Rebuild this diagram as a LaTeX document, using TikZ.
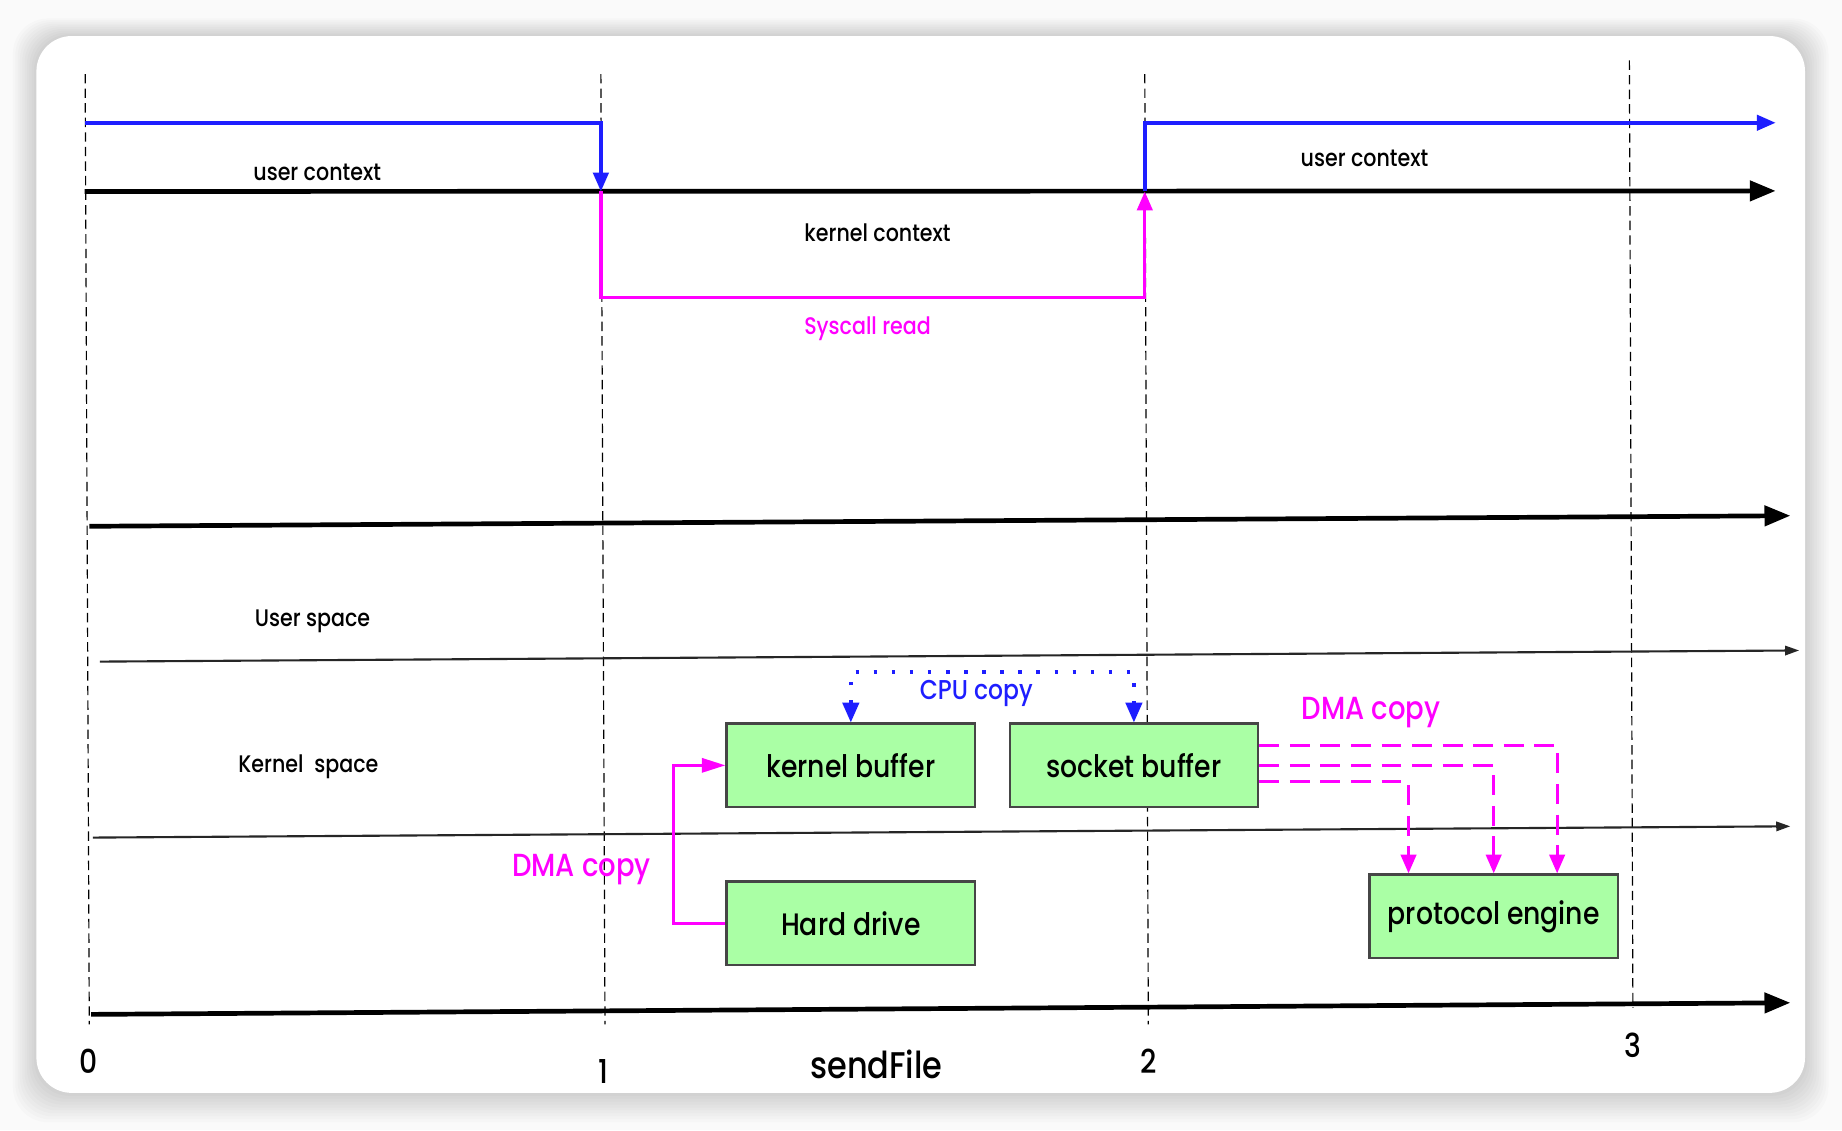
\documentclass[tikz,border=0pt]{standalone}
\usepackage{fontspec}
\setmainfont{Poppins}[UprightFont={* Medium},FakeStretch=0.86]
\usetikzlibrary{arrows.meta,positioning}
\definecolor{ctxblue}{RGB}{30,30,255}
\definecolor{sysmag}{RGB}{255,0,255}
\definecolor{bufgreen}{RGB}{170,255,165}
\definecolor{boxline}{RGB}{70,70,70}
\begin{document}
\begin{tikzpicture}[x=0.5pt,y=-0.5pt,line cap=butt,line join=miter,>={Triangle[length=8pt,width=6.5pt]}]
			\tikzset{
				buf/.style={draw=boxline,line width=1pt,fill=bufgreen,minimum width=105.75pt,minimum height=35.5pt,inner sep=0pt,font=\fontsize{13.2}{14}\selectfont},
				lbl/.style={font=\fontsize{10.2}{12}\selectfont},
				dmalbl/.style={text=sysmag,font=\fontsize{13.6}{15}\selectfont},
				tick/.style={dash pattern=on 4pt off 2.2pt,line width=0.5pt},
				axis/.style={line width=2pt,-{Triangle[length=11pt,width=8.5pt]}},
				thinaxis/.style={line width=0.9pt,black!85,-{Triangle[length=6pt,width=4pt]}},
				ctx/.style={ctxblue,line width=1.5pt},
				sys/.style={sysmag,line width=1.4pt},
				dma/.style={sysmag,line width=1.2pt,-{Triangle[length=10pt,width=6pt]}},
				dmadash/.style={sysmag,line width=1.4pt,dash pattern=on 8.5pt off 4.5pt,-{Triangle[length=8pt,width=6.5pt]}},
				cpu/.style={ctxblue,line width=1.5pt,dash pattern=on 1.5pt off 6.2pt,{Triangle[length=8.5pt,width=7pt]}-{Triangle[length=8.5pt,width=7pt]}}
			}
			% card
			\fill[gray!4] (0,0) rectangle (1568,962);
			\foreach \i in {1,...,10}
				\fill[black,opacity=0.015,rounded corners=15pt] (31-2*\i,30.7-1.5*\i) rectangle (1536.5+2*\i,930.3+2.5*\i);
			\fill[white,rounded corners=15pt] (31,30.7) rectangle (1536.5,930.3);
			\useasboundingbox (0,0) rectangle (1568,962);
			% time marks
			\draw[tick] (72.5,63) -- (76,872);
			\draw[tick] (511.5,63) -- (515,872);
			\draw[tick] (974.5,63) -- (977.5,872);
			\draw[tick] (1387,51.5) -- (1390,858);
			\draw[axis] (72,163) -- (1511.5,162.5);
			\draw[axis] (76,448) -- (1524,439);
			\draw[thinaxis] (85,563.2) -- (1531.5,553.7);
			\draw[thinaxis] (79,713) -- (1524,703.4);
			\draw[axis] (77.5,863.5) -- (1524,853.6);
			\node[font=\fontsize{14}{15}\selectfont] (t0) at (75,903) {0};
			\node[font=\fontsize{14}{15}\selectfont] (t1) at (514,912) {1};
			\node[font=\fontsize{14}{15}\selectfont] (t2) at (977.5,903) {2};
			\node[font=\fontsize{14}{15}\selectfont] (t3) at (1390,890) {3};
			\node[font=\fontsize{15.8}{17}\selectfont] (title) at (746,906) {sendFile};
			% context switches
			\coordinate (sw1) at (511.5,163);
			\coordinate (sw2) at (974.5,163);
			\draw[ctx,->] (72.5,104.5) -| (sw1);
			\draw[ctx,->] (sw2) |- (1511.5,104.5);
			\draw[sys,->] (sw1) -- ++(0,90) -| (sw2);
			\node[lbl] (uc1) at (270,147) {user context};
			\node[lbl] (uc2) at (1161.5,135) {user context};
			\node[lbl] (kc) at (747,198) {kernel context};
			\node[lbl,text=sysmag] (sr) at (738.5,280) {Syscall read};
			\node[lbl] (us) at (266,528.5) {User space};
			\node[lbl] (ks) at (262.5,652.7) {Kernel\ \ space};
			% buffers
			\node[buf] (kbuf) at (724.25,651.5) {kernel buffer};
			\node[buf,right=13.75pt of kbuf] (sbuf) {socket buffer};
			\node[buf,below=30.7pt of kbuf] (hdd) {Hard drive};
			\node[buf] (pe) at (1271.5,780) {protocol engine};
			\draw[dma] (hdd.west) -- ++(-44.5,0) |- (kbuf.west);
			\draw[cpu] (kbuf.north) -- ++(0,-43) -| (sbuf.north);
			\draw[dmadash] ([yshift=8.3pt]sbuf.east) -| ([xshift=27pt]pe.north);
			\draw[dmadash] (sbuf.east) -| (pe.north);
			\draw[dmadash] ([yshift=-7pt]sbuf.east) -| ([xshift=-36.25pt]pe.north);
			\node[lbl,text=ctxblue,font=\fontsize{11.6}{13}\selectfont] (cpulbl) at (831,590) {CPU copy};
			\node[dmalbl] (dma1) at (1167,606.7) {DMA copy};
			\node[dmalbl] (dma2) at (495,740) {DMA copy};
		\end{tikzpicture}
\end{document}
